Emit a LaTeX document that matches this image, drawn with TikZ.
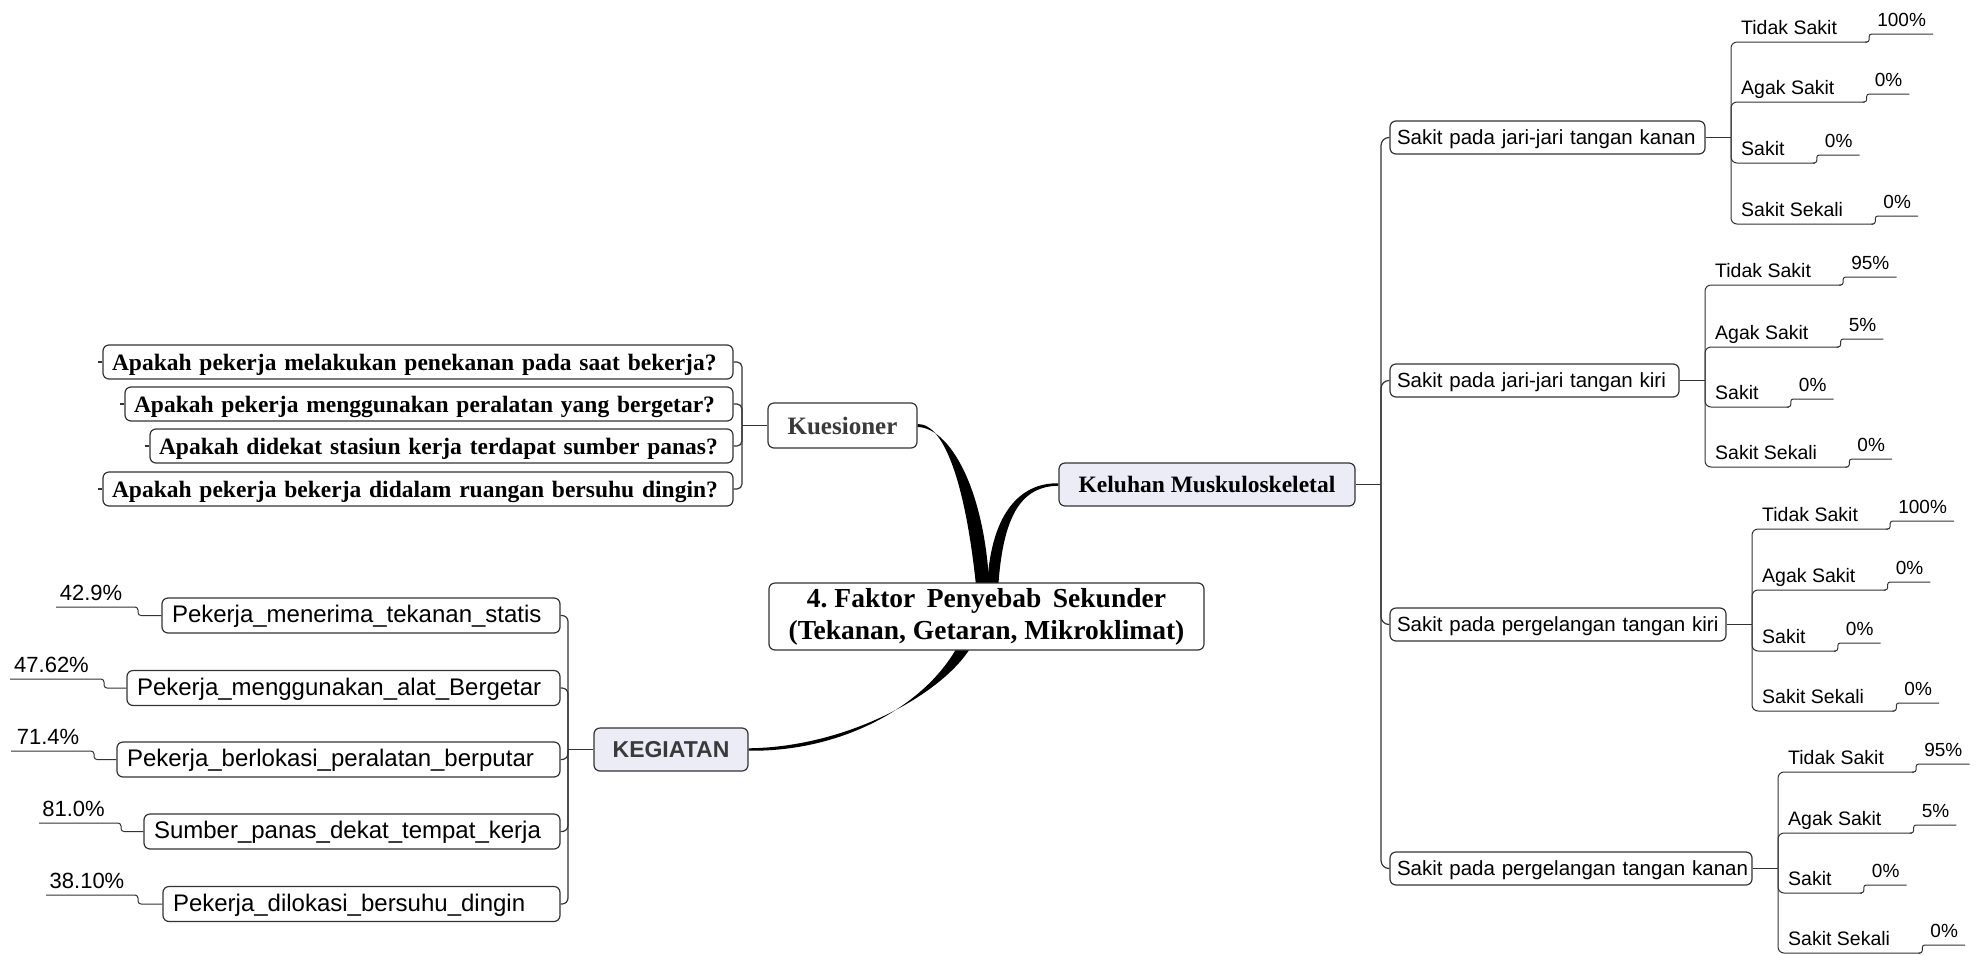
\documentclass[tikz,border=0pt]{standalone}
\usepackage{fontspec}
\setmainfont{Liberation Serif}
\setsansfont{Liberation Sans}
\usetikzlibrary{calc,backgrounds}
\definecolor{lav}{HTML}{ECECF7}
\definecolor{ln}{HTML}{333333}
\definecolor{dk}{HTML}{3A3A3A}
% #1 junction x, #2 underline y, #3 label, #4 percent, #5 name, #6 junction coordinate
\newcommand\mmleaf[6]{%
  \node[leafl, anchor=base west] (#5l) at ({#1+10},{#2-8}) {#3};
  \node[pctr, anchor=base west] (#5p) at ($(#5l.base east)+(40,-8)$) {#4};
  \draw[thinw, rounded corners=6pt] (#6) |- ($(#5l.base east)+(30,8)$);
  \draw[thinw, rounded corners=2.5pt] ($(#5l.base east)+(28,8)$) -- ($(#5l.base east)+(32,8)$) -- ($(#5l.base east)+(32,0)$) -- ($(#5p.base east)+(7,8)$);
}
\begin{document}
\begin{tikzpicture}[x=1pt,y=-1pt,
  box/.style={draw=ln, line width=1.2pt, rounded corners=6pt, fill=white, inner ysep=0pt},
  wire/.style={draw=ln, line width=1.2pt},
  thinw/.style={draw=ln, line width=1pt},
  branch/.style={fill=black},
  mainn/.style={box, font=\bfseries\fontsize{27.5}{32}\selectfont, align=center, minimum width=435pt, minimum height=67pt},
  topn/.style={box, font=\bfseries\fontsize{25}{29}\selectfont, text=dk, minimum height=45pt, inner xsep=0pt},
  qst/.style={box, font=\bfseries\fontsize{23.5}{27}\selectfont, align=left, inner xsep=9pt, minimum height=34pt, text height=18pt, text depth=2pt},
  kst/.style={box, font=\sffamily\fontsize{24}{28}\selectfont, align=left, inner xsep=10pt, minimum height=35pt, text height=18pt, text depth=4pt},
  sst/.style={box, font=\sffamily\fontsize{20.5}{24}\selectfont, align=left, inner xsep=7pt, minimum height=33pt, text height=16pt, text depth=2pt},
  pctl/.style={font=\sffamily\fontsize{22}{26}\selectfont, inner sep=0pt},
  leafl/.style={font=\sffamily\fontsize{19.5}{23}\selectfont, inner sep=0pt},
  pctr/.style={font=\sffamily\fontsize{19}{23}\selectfont, inner sep=0pt}
]
\useasboundingbox (0,0) rectangle (1982,954);

% ---- main nodes
\node[mainn] (C) at (986.5,616.5) {4.\ Faktor\ \,Penyebab\ \,Sekunder\\(Tekanan, Getaran, Mikroklimat)};
\node[topn, minimum width=149pt] (Kue) at (842.5,425.5) {Kuesioner};
\node[topn, fill=lav, text=black, font=\bfseries\fontsize{23.5}{27}\selectfont, minimum width=296pt, minimum height=43pt] (Kel) at (1207,484.5) {Keluhan Muskuloskeletal};
\node[box, fill=lav, text=dk, font=\sffamily\bfseries\fontsize{23}{27}\selectfont, minimum width=154pt, minimum height=43pt, inner xsep=0pt] (Keg) at (671,749.5) {KEGIATAN};

% ---- tapered branches
\begin{pgfonlayer}{background}
\fill[branch] ($(Kue.east)+(0,-1.5)$) .. controls ($(Kue.east)+(28,-2)$) and ($(C.north)+(-20,-93)$) .. ($(C.north)+(-10,8)$)
  -- ($(C.north)+(3,8)$) .. controls ($(C.north)+(-1,-93)$) and ($(Kue.east)+(32,2)$) .. ($(Kue.east)+(0,1.5)$) -- cycle;
\fill[branch] ($(C.north)+(0.5,8)$) .. controls ($(C.north)+(3,-68)$) and ($(Kel.west)+(-39,-2)$) .. ($(Kel.west)+(0,-1.2)$)
  -- ($(Kel.west)+(0,1.2)$) .. controls ($(Kel.west)+(-37,2)$) and ($(C.north)+(16,-68)$) .. ($(C.north)+(11.5,8)$) -- cycle;
\fill[branch] ($(C.south)+(-13,-8)$) .. controls ($(C.south)+(-38,40)$) and ($(Keg.east)+(102,-2.5)$) .. ($(Keg.east)+(0,-1.2)$)
  -- ($(Keg.east)+(0,1.2)$) .. controls ($(Keg.east)+(100,2.5)$) and ($(C.south)+(-56,50)$) .. ($(C.south)+(-27,-8)$) -- cycle;
\end{pgfonlayer}

% ---- questions
\node[qst, text width=612pt] (Q1) at (418,362) {\mbox{Apakah pekerja melakukan penekanan pada saat bekerja?}};
\node[qst, text width=590pt] (Q2) at (429,404) {\mbox{Apakah pekerja menggunakan peralatan yang bergetar?}};
\node[qst, text width=565pt] (Q3) at (441.5,446) {\mbox{Apakah didekat stasiun kerja terdapat sumber panas?}};
\node[qst, text width=612pt] (Q4) at (418,489) {\mbox{Apakah pekerja bekerja didalam ruangan bersuhu dingin?}};
\coordinate (qj) at (742,425.5);
\draw[wire] (Kue.west) -- (qj);
\foreach \q in {Q1,Q2,Q3,Q4} {
  \draw[wire, rounded corners=5pt] (qj) |- (\q.east);
  \draw[wire] (\q.west) -- ++(-4,0);
}

% ---- kegiatan
\node[kst, text width=378pt] (K1) at (361,615.5) {\mbox{Pekerja\_menerima\_tekanan\_statis}};
\node[kst, text width=413pt] (K2) at (343.5,688) {\mbox{Pekerja\_menggunakan\_alat\_Bergetar}};
\node[kst, text width=423pt] (K3) at (338.5,759.5) {\mbox{Pekerja\_berlokasi\_peralatan\_berputar}};
\node[kst, text width=396pt] (K4) at (352,831.5) {\mbox{Sumber\_panas\_dekat\_tempat\_kerja}};
\node[kst, text width=377pt] (K5) at (361.5,904) {\mbox{Pekerja\_dilokasi\_bersuhu\_dingin}};
\coordinate (kj) at (568,749.5);
\draw[wire] (Keg.west) -- (kj);
\foreach \k in {K1,K2,K3,K4,K5} {
  \draw[wire, rounded corners=6pt] (kj) |- (\k.east);
}
\node[pctl, anchor=base] (P1) at (91,600) {42.9\%};
\node[pctl, anchor=base] (P2) at (51.5,672) {47.62\%};
\node[pctl, anchor=base] (P3) at (48,744) {71.4\%};
\node[pctl, anchor=base] (P4) at (73.5,816) {81.0\%};
\node[pctl, anchor=base] (P5) at (87,888) {38.10\%};
\coordinate (e1) at (56,607);
\coordinate (e2) at (10,679);
\coordinate (e3) at (11,751);
\coordinate (e4) at (39,823);
\coordinate (e5) at (46,895);
\draw[thinw, rounded corners=3pt] (K1.west) -- (138,615.5) -- (138,607) -- (e1);
\draw[thinw, rounded corners=3pt] (K2.west) -- (104,688) -- (104,679) -- (e2);
\draw[thinw, rounded corners=3pt] (K3.west) -- (94,759.5) -- (94,751) -- (e3);
\draw[thinw, rounded corners=3pt] (K4.west) -- (121,831.5) -- (121,823) -- (e4);
\draw[thinw, rounded corners=3pt] (K5.west) -- (138,904) -- (138,895) -- (e5);

% ---- keluhan
\node[sst, text width=301pt] (S1) at (1547.5,137.5) {\mbox{Sakit pada jari-jari tangan kanan}};
\node[sst, text width=275pt] (S2) at (1534.5,380.5) {\mbox{Sakit pada jari-jari tangan kiri}};
\node[sst, text width=322pt] (S3) at (1558,624.5) {\mbox{Sakit pada pergelangan tangan kiri}};
\node[sst, text width=348pt] (S4) at (1571,868.5) {\mbox{Sakit pada pergelangan tangan kanan}};
\coordinate (rj) at (1381,484.5);
\draw[wire] (Kel.east) -- (rj);
\foreach \s in {S1,S2,S3,S4} {
  \draw[wire, rounded corners=8pt] (rj) |- (\s.west);
}
\coordinate (j1) at (1731,137.5);
\coordinate (j2) at (1705,380.5);
\coordinate (j3) at (1752,624.5);
\coordinate (j4) at (1778,868.5);
\draw[wire] (S1.east) -- (j1);
\draw[wire] (S2.east) -- (j2);
\draw[wire] (S3.east) -- (j3);
\draw[wire] (S4.east) -- (j4);

\mmleaf{1731}{42}{Tidak Sakit}{100\%}{a1}{j1}
\mmleaf{1731}{102}{Agak Sakit}{0\%}{a2}{j1}
\mmleaf{1731}{163}{Sakit}{0\%}{a3}{j1}
\mmleaf{1731}{224}{Sakit Sekali}{0\%}{a4}{j1}

\mmleaf{1705}{285}{Tidak Sakit}{95\%}{b1}{j2}
\mmleaf{1705}{347}{Agak Sakit}{5\%}{b2}{j2}
\mmleaf{1705}{407}{Sakit}{0\%}{b3}{j2}
\mmleaf{1705}{467}{Sakit Sekali}{0\%}{b4}{j2}

\mmleaf{1752}{529}{Tidak Sakit}{100\%}{c1}{j3}
\mmleaf{1752}{590}{Agak Sakit}{0\%}{c2}{j3}
\mmleaf{1752}{651}{Sakit}{0\%}{c3}{j3}
\mmleaf{1752}{711}{Sakit Sekali}{0\%}{c4}{j3}

\mmleaf{1778}{772}{Tidak Sakit}{95\%}{d1}{j4}
\mmleaf{1778}{833}{Agak Sakit}{5\%}{d2}{j4}
\mmleaf{1778}{893}{Sakit}{0\%}{d3}{j4}
\mmleaf{1778}{953}{Sakit Sekali}{0\%}{d4}{j4}
\end{tikzpicture}
\end{document}
